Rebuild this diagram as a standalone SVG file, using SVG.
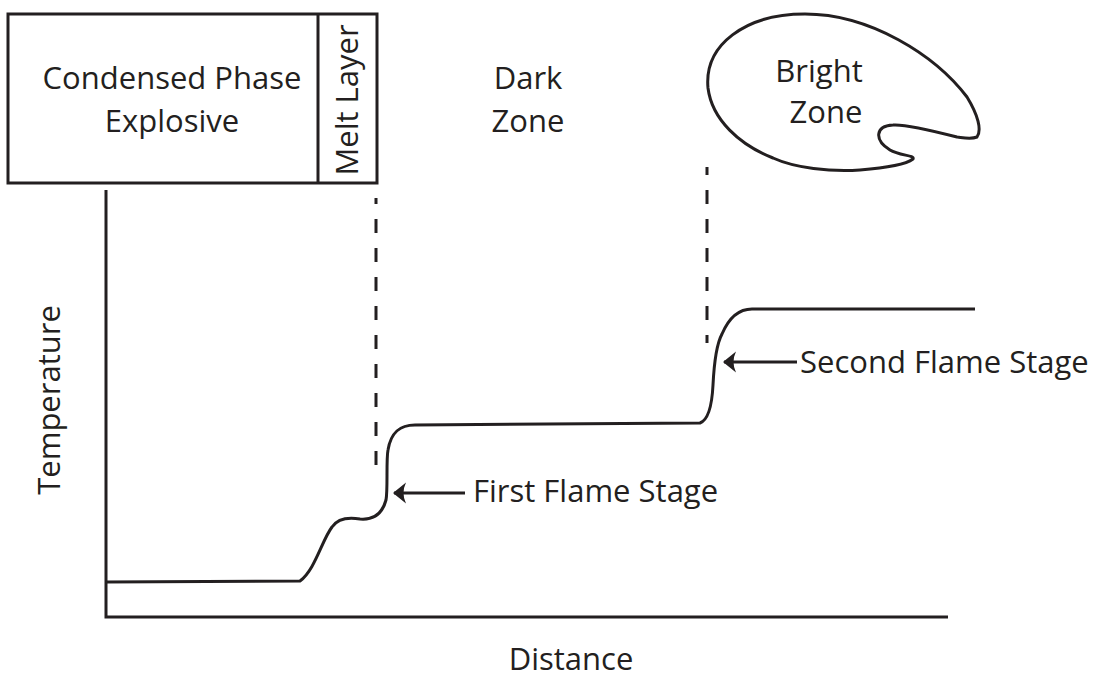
<svg xmlns="http://www.w3.org/2000/svg" width="1102" height="677" viewBox="0 0 1102 677">
<style>
.ln{fill:none;stroke:#231f20;stroke-width:3}
.dash{fill:none;stroke:#231f20;stroke-width:3;stroke-dasharray:14 15}
.t{font-family:"Open Sans","Liberation Sans",sans-serif;font-size:31px;fill:#231f20}
</style>
<defs>
<marker id="ah" viewBox="0 0 14 22" refX="13" refY="11" markerWidth="14" markerHeight="22" markerUnits="userSpaceOnUse" orient="auto">
<path d="M14,11 L1,0.5 Q6,11 1,21.5 Z" fill="#231f20"/>
</marker>
</defs>
<rect width="1102" height="677" fill="#ffffff"/>
<g id="explosive">
<rect class="ln" x="8" y="14" width="369" height="169"/>
<text class="t" x="172" y="89" text-anchor="middle">Condensed Phase</text>
<text class="t" x="172" y="132" text-anchor="middle">Explosive</text>
</g>
<g id="melt">
<line class="ln" x1="318" y1="14" x2="318" y2="183"/>
<text class="t" transform="translate(358,100) rotate(-90)" text-anchor="middle">Melt Layer</text>
</g>
<g id="dark">
<text class="t" x="528" y="89" text-anchor="middle">Dark</text>
<text class="t" x="528" y="132" text-anchor="middle">Zone</text>
</g>
<g id="bright">
<path class="ln" d="M708,88 C704,45 745,14 805,14 C870,14 935,55 967,97 C978,115 982,130 977,137 C970,140 960,137 957,137 C930,130 905,124 893,125 C875,126 874,140 890,150 C900,156 915,155 913,159 C905,165 885,168 860,170 C830,172 795,168 773,158 C740,145 712,120 708,88 Z"/>
<text class="t" x="819" y="82" text-anchor="middle">Bright</text>
<text class="t" x="826" y="123" text-anchor="middle">Zone</text>
</g>
<g id="axes">
<polyline class="ln" points="106,190 106,617 948,617"/>
<text class="t" transform="translate(60,400) rotate(-90)" text-anchor="middle">Temperature</text>
<text class="t" x="571" y="670" text-anchor="middle">Distance</text>
</g>
<g id="curve">
<path class="ln" d="M106,582 L300,581 C315,570 322,540 332,527 C338,518 348,517 360,519 C372,520 382,515 386,500 C388,490 386,460 388,450 C391,432 400,425 415,425 L700,423 C708,420 712,405 713,385 C714,365 716,345 722,334 C728,320 738,309 752,309 L975,309"/>
</g>
<g id="connectors">
<line class="dash" x1="376" y1="198" x2="376" y2="470" stroke-dashoffset="8"/>
<line class="dash" x1="707" y1="167" x2="707" y2="343" stroke-dashoffset="6"/>
<line class="ln" x1="465" y1="493" x2="394" y2="493" marker-end="url(#ah)" stroke-width="2.5"/>
<line class="ln" x1="797" y1="362" x2="724" y2="362" marker-end="url(#ah)" stroke-width="2.5"/>
</g>
<g id="labels">
<text class="t" x="473" y="502">First Flame Stage</text>
<text class="t" x="800" y="373">Second Flame Stage</text>
</g>
</svg>
